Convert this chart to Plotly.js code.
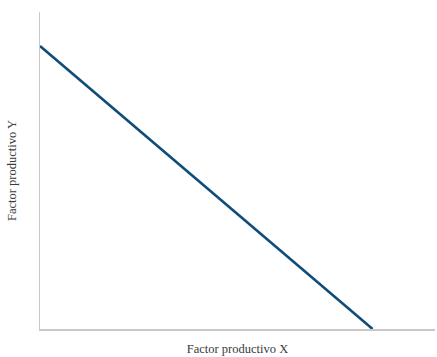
<!DOCTYPE html>
<html><head><meta charset="utf-8">
<script src="https://cdn.plot.ly/plotly-3.0.1.min.js"></script>
<style>html,body{margin:0;padding:0;background:#fff}</style>
</head><body><div id="chart" style="width:437px;height:357px"></div>
<script>
const factorX = [0, 8.42];
const factorY = [8.93, 0];
const xTitle = 'Factor productivo X';
const yTitle = 'Factor productivo Y';

Plotly.newPlot('chart', [{
  x: factorX, y: factorY, type: 'scatter', mode: 'lines',
  line: {color: '#0f4c78', width: 2.6}, hoverinfo: 'skip'
}], {
  width: 437, height: 357,
  margin: {l: 40, r: 2, t: 12, b: 28},
  paper_bgcolor: '#fff', plot_bgcolor: '#fff',
  showlegend: false,
  font: {family: 'Liberation Serif, serif', size: 12.5, color: '#3a3a3a'},
  xaxis: {range: [0, 10], showgrid: false, zeroline: false, showticklabels: false, ticks: '',
    showline: true, linecolor: '#c8c8c8', linewidth: 1.5,
    title: {text: xTitle, standoff: 14, font: {size: 12.5}}},
  yaxis: {range: [0, 10], showgrid: false, zeroline: false, showticklabels: false, ticks: '',
    showline: true, linecolor: '#c8c8c8', linewidth: 1.5,
    title: {text: yTitle, standoff: 19, font: {size: 12.5}}}
}, {displayModeBar: false, staticPlot: true});
</script></body></html>
